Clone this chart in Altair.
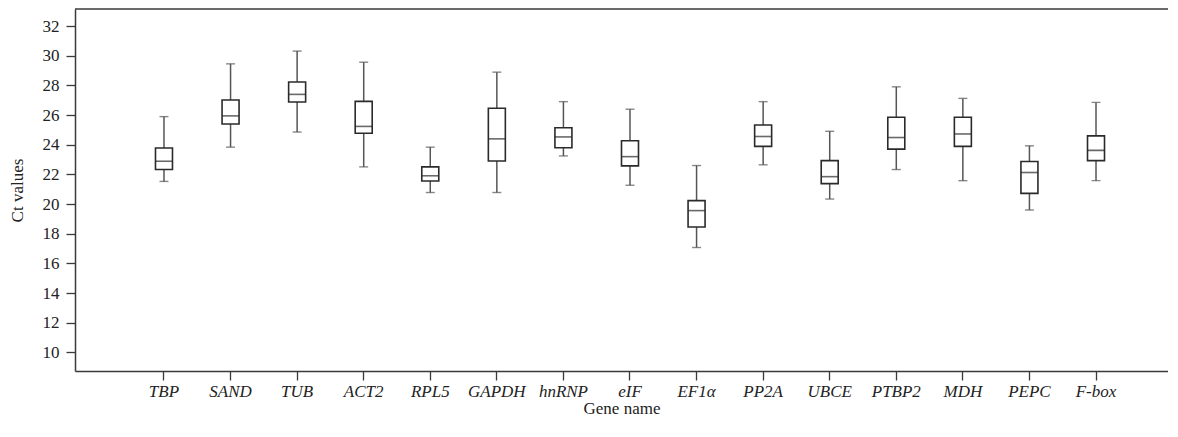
import altair as alt
import pandas as pd

genes = ["TBP", "SAND", "TUB", "ACT2", "RPL5", "GAPDH", "hnRNP", "eIF", "EF1α",
         "PP2A", "UBCE", "PTBP2", "MDH", "PEPC", "F-box"]
mins = [21.53, 23.84, 24.86, 22.51, 20.78, 20.78, 23.25, 21.27, 17.07, 22.65, 20.34, 22.33, 21.58, 19.60, 21.58]
q1s = [22.33, 25.40, 26.89, 24.78, 21.56, 22.91, 23.80, 22.58, 18.45, 23.89, 21.38, 23.71, 23.89, 20.72, 22.93]
meds = [22.89, 25.95, 27.40, 25.24, 21.91, 24.40, 24.53, 23.20, 19.56, 24.56, 21.85, 24.49, 24.73, 22.13, 23.62]
q3s = [23.78, 27.02, 28.24, 26.93, 22.51, 26.46, 25.15, 24.27, 20.23, 25.33, 22.93, 25.86, 25.86, 22.87, 24.60]
maxs = [25.90, 29.46, 30.32, 29.57, 23.84, 28.90, 26.91, 26.40, 22.60, 26.91, 24.91, 27.91, 27.13, 23.93, 26.86]
y_ticks = [10, 12, 14, 16, 18, 20, 22, 24, 26, 28, 30, 32]

df = pd.DataFrame({"gene": genes, "min": mins, "q1": q1s, "med": meds, "q3": q3s, "max": maxs})

W, H = 1093, 362
FONT = "Liberation Serif"
LINE = "#3a3a3a"
FS = 17

x = alt.X("gene:N", sort=genes, title="Gene name",
          scale=alt.Scale(paddingInner=0, paddingOuter=0.709, align=0.59),
          axis=alt.Axis(labelAngle=0, tickSize=9, labelPadding=3, labelFontStyle="italic",
                        labelFont=FONT, labelFontSize=FS, labelColor="#222", labelOverlap=False,
                        titleFont=FONT, titleFontSize=FS, titleFontWeight="normal", titleColor="#222",
                        titleY=42, titleBaseline="alphabetic",
                        domainColor=LINE, domainWidth=1.5, tickColor=LINE, tickWidth=1.3, grid=False))
yscale = alt.Scale(domain=[8.74, 33.16], nice=False, zero=False)
yaxis = alt.Axis(values=y_ticks, tickSize=9, labelPadding=7, labelFont=FONT, labelFontSize=FS,
                 labelColor="#222", labelOverlap=False, labelBound=False,
                 title="Ct values", titleFont=FONT, titleFontSize=FS,
                 titleFontWeight="normal", titleColor="#222", titleX=-58, titleY=H / 2,
                 titleAngle=-90, titleBaseline="middle", titleAlign="center",
                 domainColor=LINE, domainWidth=1.5, tickColor=LINE, tickWidth=1.3, grid=False)


def yenc(field):
    return alt.Y(field, type="quantitative", scale=yscale, axis=yaxis, title="Ct values")


base = alt.Chart(df)

whisker = base.mark_rule(color="#555", strokeWidth=1.5).encode(
    x=x, y=yenc("min"), y2="max:Q")
box = base.mark_bar(size=17, fill="white", stroke="#2a2a2a", strokeWidth=1.6).encode(
    x=x, y=yenc("q1"), y2="q3:Q")
median = base.mark_tick(size=17, thickness=1.6, color="#2a2a2a").encode(
    x=x, y=yenc("med"))
cap_lo = base.mark_tick(size=9, thickness=1.4, color="#555").encode(
    x=x, y=yenc("min"))
cap_hi = base.mark_tick(size=9, thickness=1.4, color="#555").encode(
    x=x, y=yenc("max"))
top_line = alt.Chart(pd.DataFrame({"a": [0]})).mark_rule(color=LINE, strokeWidth=1.5).encode(
    x=alt.value(0), x2=alt.value(W), y=alt.value(0), y2=alt.value(0))

chart = alt.layer(whisker, box, median, cap_lo, cap_hi, top_line).properties(
    width=W, height=H,
    background="white",
    autosize=alt.AutoSizeParams(type="none"),
    padding={"left": 67, "top": 1, "right": 0, "bottom": 47},
).configure_view(strokeOpacity=0, strokeWidth=0)

chart.save("out.html", embed_options={"renderer": "svg", "actions": False})
